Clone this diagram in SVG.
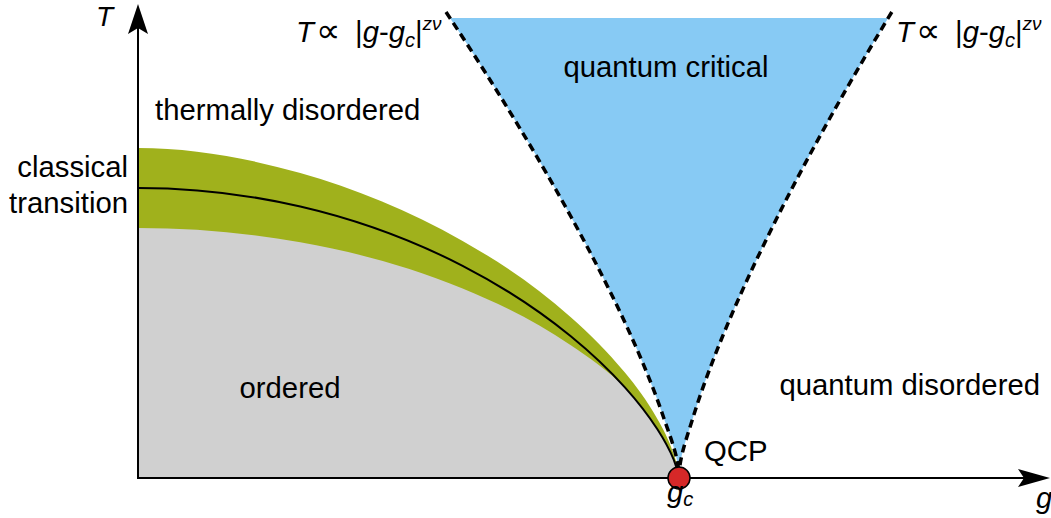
<svg xmlns="http://www.w3.org/2000/svg" width="1051" height="518" viewBox="0 0 1051 518">
<style>
text{font-family:"Liberation Sans","DejaVu Sans",Arial,sans-serif;fill:#000}
.lbl{font-size:29.3px}
.it{font-style:italic}
.prop{font-family:"DejaVu Sans",sans-serif;font-size:34px}
.sub{font-size:20px;font-style:italic}
.sup{font-size:19px;font-style:italic}
.axl{font-size:28px;font-style:italic}
.dash{fill:none;stroke:#000;stroke-width:3.5;stroke-dasharray:8 5}
.axis{stroke:#000;stroke-width:2;fill:none}
</style>
<defs>
<clipPath id="topclip"><rect x="0" y="18" width="1051" height="500"/></clipPath>
</defs>
<g id="region-quantum-critical">
<path fill="#87CAF4" clip-path="url(#topclip)" d="M446,12 C491.6,80.7 534,149.3 571.7,218 C593.6,258 614.1,298 632,338 C643.9,364.7 654.8,391.3 663.8,418 C670.6,438 679,458 679,478 C679,458 686.7,438 692.9,418 C701.1,391.3 711,364.7 721.9,338 C738.2,298 756.9,258 776.9,218 C811.3,149.3 850.2,80.7 891.8,12 Z"/>
<text class="lbl" x="666" y="77" text-anchor="middle">quantum critical</text>
</g>
<g id="region-transition-band">
<path fill="#A0B11C" d="M138,148 C192.1,148 246.2,157.7 300.3,173.1 C354.4,188.5 408.5,210.2 462.6,240.9 C498.7,261.3 534.7,285.2 570.8,317.2 C588.8,333.2 606.9,350.7 624.9,372.6 C635.7,385.7 646.6,400.1 657.4,419 C662.8,428.4 668.2,438.2 673.6,453.8 C675.4,459 679,470 679,478 L138,478 Z"/>
</g>
<g id="region-ordered">
<path fill="#D0D0D0" d="M138,228 C192.1,228 246.2,232.6 300.3,242.2 C354.4,251.8 408.5,266.4 462.6,288.4 C498.7,303.1 534.7,320.9 570.8,345.3 C588.8,357.5 606.9,369.8 624.9,387.3 C635.7,399.3 646.6,412.5 657.4,429.2 C662.8,437.6 668.2,446.3 673.6,459.3 C675.4,463.6 678,472 679,478 L138,478 Z"/>
<text class="lbl" x="290" y="398" text-anchor="middle">ordered</text>
</g>
<g id="connectors">
<path fill="none" stroke="#000" stroke-width="2" d="M138,188 C192.1,188 246.2,194 300.3,206.5 C354.4,219 408.5,238 462.6,265.8 C498.7,284.4 534.7,306.8 570.8,336.2 C588.8,350.9 606.9,367.3 624.9,387.3 C635.7,399.3 646.6,412.5 657.4,429.2 C662.8,437.6 668.2,446.3 673.6,459.3 C675.4,463.6 678,472 679,478"/>
<path class="dash" d="M446,12 C491.6,80.7 534,149.3 571.7,218 C593.6,258 614.1,298 632,338 C643.9,364.7 654.8,391.3 663.8,418 C670.6,438 679,458 679,478"/>
<path class="dash" d="M891.8,12 C850.2,80.7 811.3,149.3 776.9,218 C756.9,258 738.2,298 721.9,338 C711,364.7 701.1,391.3 692.9,418 C686.7,438 679,458 679,478"/>
<line class="axis" x1="138" y1="479" x2="138" y2="26"/>
<polygon points="138,4 128,34 138,28 148,34" fill="#000"/>
<line class="axis" x1="137" y1="478" x2="1026" y2="478"/>
<polygon points="1050,478 1018,469 1024,478 1018,487" fill="#000"/>
</g>
<g id="node-qcp">
<circle cx="679" cy="478" r="11" fill="#D62828" stroke="#000" stroke-width="1.5"/>
<text class="lbl" x="704" y="461">QCP</text>
</g>
<g id="labels">
<text class="axl" x="96" y="26">T</text>
<text class="lbl it" x="1036" y="508">g</text>
<text class="lbl it" x="667" y="502">g<tspan class="sub" dy="4">c</tspan></text>
<text class="lbl" x="155" y="120">thermally disordered</text>
<text class="lbl" x="128" y="177" text-anchor="end">classical</text>
<text class="lbl" x="128" y="213" text-anchor="end">transition</text>
<text class="lbl" x="1040" y="395" text-anchor="end">quantum disordered</text>
<text class="lbl" y="42"><tspan x="296" class="it">T</tspan><tspan x="316" class="prop">∝</tspan><tspan x="355">|</tspan><tspan class="it">g</tspan>-<tspan class="it">g</tspan><tspan class="sub" dy="5">c</tspan><tspan dy="-5">|</tspan><tspan class="sup" dy="-12">zν</tspan></text>
<text class="lbl" y="42"><tspan x="896" class="it">T</tspan><tspan x="916" class="prop">∝</tspan><tspan x="955">|</tspan><tspan class="it">g</tspan>-<tspan class="it">g</tspan><tspan class="sub" dy="5">c</tspan><tspan dy="-5">|</tspan><tspan class="sup" dy="-12">zν</tspan></text>
</g>
</svg>
